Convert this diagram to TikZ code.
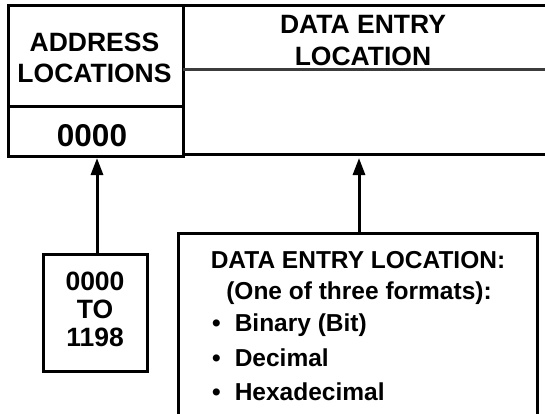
\documentclass[tikz,border=0pt]{standalone}
\usepackage{fontspec}
\setmainfont{Liberation Sans}
\usetikzlibrary{arrows.meta}
\begin{document}
\begin{tikzpicture}[x=1pt,y=-1pt,
  frame/.style={line width=3pt,line cap=rect},
  greyline/.style={line width=3pt,draw={rgb,255:red,60;green,60;blue,60}},
  head/.style={font=\fontsize{26.5}{31.5}\selectfont\bfseries,align=center,inner sep=0pt},
  big/.style={font=\fontsize{31.5}{33}\selectfont\bfseries,inner sep=0pt},
  boxtext/.style={font=\fontsize{26.5}{29}\selectfont\bfseries,align=center},
  info/.style={font=\fontsize{24.5}{30}\selectfont\bfseries,inner sep=0pt},
  conn/.style={line width=3pt,-{Triangle[width=12pt,length=17pt]}}]
\useasboundingbox (0,0) rectangle (545,413);
% table
\draw[frame] (8,156) -- (8,5) -- (546,5);
\draw[frame] (183,5) -- (183,156);
\draw[frame] (8,106) -- (183,106);
\draw[frame] (8,156) -- (183,156);
\draw[frame] (183,154) -- (546,154);
\draw[greyline] (183,69) -- (546,69);
\node[head] (addr) at (94.5,58) {ADDRESS\\LOCATIONS};
\node[big] (zero) at (92,135.5) {0000};
\node[head] (dhead) at (363,40.5) {DATA ENTRY\\LOCATION};
% targets on table bottom
\coordinate (t1) at (97,158);
\coordinate (t2) at (359,158);
% range box
\node[boxtext,draw,line width=3pt,minimum width=104pt,minimum height=117pt,inner sep=0pt] (rng) at (95,312.5) {\raisebox{3pt}{\begin{tabular}{@{}c@{}}0000\\[-1pt]TO\\[-1pt]1198\end{tabular}}};
% info box frame (open at bottom)
\coordinate (ib) at (359,233);
\draw[frame] (178,416) -- (178,233) -- (537,233) -- (537,416);
\node[info,anchor=base] (l1) at (358,268) {DATA ENTRY LOCATION:};
\node[info,anchor=base] (l2) at (359,299) {(One of three formats):};
\node[info,anchor=base west] (l3) at (212,331) {•\hspace{14pt}Binary (Bit)};
\node[info,anchor=base west] (l4) at (212,366) {•\hspace{14pt}Decimal};
\node[info,anchor=base west] (l5) at (212,400) {•\hspace{14pt}Hexadecimal};
% connectors
\draw[conn] (rng.north -| t1) -- (t1);
\draw[conn] (ib) -- (t2);
\end{tikzpicture}
\end{document}
